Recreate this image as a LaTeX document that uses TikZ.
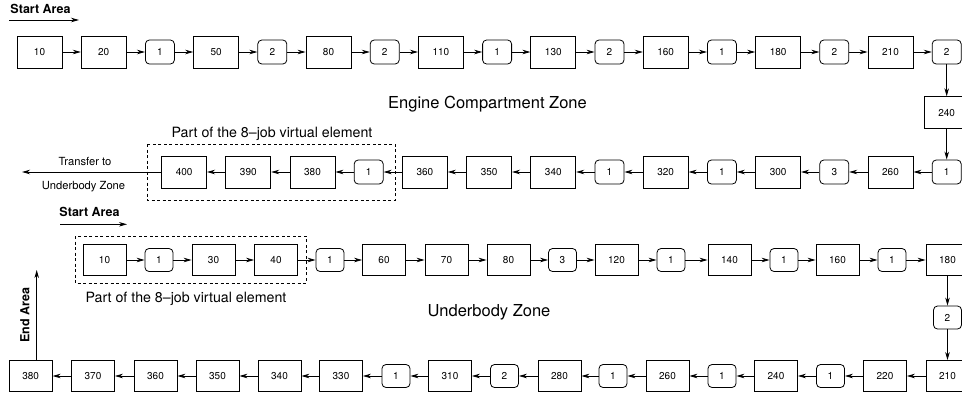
\documentclass[tikz,border=0pt]{standalone}
\usepackage{fontspec}
\setmainfont{TeX Gyre Heros}
\usetikzlibrary{arrows.meta}
\tikzset{
  big/.style={draw, line width=0.8pt, minimum width=45pt, minimum height=32pt, inner sep=0pt, font=\fontsize{10}{12}\selectfont},
  sml/.style={draw, line width=0.8pt, rounded corners=4pt, minimum width=29pt, minimum height=24pt, inner sep=0pt, font=\fontsize{10}{12}\selectfont},
  bigl/.style={big, minimum width=43pt, minimum height=31pt},
  smll/.style={sml, minimum width=28pt, minimum height=23pt},
  arr/.style={line width=0.8pt, -{Stealth[length=8pt,width=4.5pt,inset=2.5pt]}},
  dashbox/.style={line width=0.8pt, dash pattern=on 3pt off 2.5pt},
  lbl/.style={anchor=base, inner sep=0pt},
  hd/.style={lbl, font=\bfseries\fontsize{12.5}{14}\selectfont},
  zone/.style={lbl, font=\fontsize{16.5}{19}\selectfont},
  part/.style={lbl, font=\fontsize{14.2}{17}\selectfont},
  small/.style={lbl, font=\fontsize{11.2}{13}\selectfont},
}
\begin{document}
\begin{tikzpicture}[x=1pt,y=-1pt]
\useasboundingbox (0,0) rectangle (962,397);
\clip (0,0) rectangle (962,397);

% ---------- Row 1 ----------
\node[big] (a10)  at (39.5,52)  {10};
\node[big] (a20)  at (103.7,52) {20};
\node[sml] (a1a)  at (159.9,52) {1};
\node[big] (a50)  at (216.1,52) {50};
\node[sml] (a2a)  at (272.3,52) {2};
\node[big] (a80)  at (328.5,52) {80};
\node[sml] (a2b)  at (384.7,52) {2};
\node[big] (a110) at (440.9,52) {110};
\node[sml] (a1b)  at (497.1,52) {1};
\node[big] (a130) at (553.3,52) {130};
\node[sml] (a2c)  at (609.5,52) {2};
\node[big] (a160) at (665.7,52) {160};
\node[sml] (a1c)  at (721.9,52) {1};
\node[big] (a180) at (778.1,52) {180};
\node[sml] (a2d)  at (834.3,52) {2};
\node[big] (a210) at (890.5,52) {210};
\node[sml] (a2e)  at (946.7,52) {2};
\node[big] (a240) at (946.7,112.7) {240};

% ---------- Row 2 ----------
\node[sml] (b1a)  at (946.7,172) {1};
\node[big] (b260) at (890.5,172) {260};
\node[sml] (b3)   at (834.3,172) {3};
\node[big] (b300) at (778.1,172) {300};
\node[sml] (b1b)  at (721.9,172) {1};
\node[big] (b320) at (665.7,172) {320};
\node[sml] (b1c)  at (609.5,172) {1};
\node[big] (b340) at (553.3,172) {340};
\node[big] (b350) at (489.1,172) {350};
\node[big] (b360) at (424.9,172) {360};
\node[sml] (b1d)  at (368.7,172) {1};
\node[big] (b380) at (312.5,172) {380};
\node[big] (b390) at (248.3,172) {390};
\node[big] (b400) at (184.1,172) {400};

% ---------- Row 3 ----------
\node[bigl] (c10)  at (104.5,260) {10};
\node[smll] (c1a)  at (159,260)   {1};
\node[bigl] (c30)  at (213.5,260) {30};
\node[bigl] (c40)  at (276,260)   {40};
\node[smll] (c1b)  at (330,260)   {1};
\node[bigl] (c60)  at (384,260)   {60};
\node[bigl] (c70)  at (446.5,260) {70};
\node[bigl] (c80)  at (508.5,260) {80};
\node[smll] (c3)   at (562.5,260) {3};
\node[bigl] (c120) at (616.5,260) {120};
\node[smll] (c1c)  at (671,260)   {1};
\node[bigl] (c140) at (729.5,260) {140};
\node[smll] (c1d)  at (784,260)   {1};
\node[bigl] (c160) at (837.5,260) {160};
\node[smll] (c1e)  at (892,260)   {1};
\node[bigl] (c180) at (947.5,260) {180};
\node[smll] (c2)   at (947.5,317.5) {2};

% ---------- Row 4 ----------
\node[bigl] (d210) at (947.5,376) {210};
\node[bigl] (d220) at (885,376)   {220};
\node[smll] (d1a)  at (830.5,376) {1};
\node[bigl] (d240) at (776,376)   {240};
\node[smll] (d1b)  at (722,376)   {1};
\node[bigl] (d260) at (667.5,376) {260};
\node[smll] (d1c)  at (613,376)   {1};
\node[bigl] (d280) at (559.5,376) {280};
\node[smll] (d2)   at (504.5,376) {2};
\node[bigl] (d310) at (450,376)   {310};
\node[smll] (d1d)  at (396,376)   {1};
\node[bigl] (d330) at (341,376)   {330};
\node[bigl] (d340) at (279.5,376) {340};
\node[bigl] (d350) at (217.5,376) {350};
\node[bigl] (d360) at (155.5,376) {360};
\node[bigl] (d370) at (93,376)    {370};
\node[bigl] (d380) at (30.7,376)  {380};

% ---------- connectors ----------
\foreach \p/\q in {a10/a20,a20/a1a,a1a/a50,a50/a2a,a2a/a80,a80/a2b,a2b/a110,a110/a1b,
  a1b/a130,a130/a2c,a2c/a160,a160/a1c,a1c/a180,a180/a2d,a2d/a210,a210/a2e,a2e/a240,a240/b1a,
  b1a/b260,b260/b3,b3/b300,b300/b1b,b1b/b320,b320/b1c,b1c/b340,b340/b350,b350/b360,b360/b1d,
  b1d/b380,b380/b390,b390/b400,
  c10/c1a,c1a/c30,c30/c40,c40/c1b,c1b/c60,c60/c70,c70/c80,c80/c3,c3/c120,c120/c1c,c1c/c140,
  c140/c1d,c1d/c160,c160/c1e,c1e/c180,c180/c2,c2/d210,
  d210/d220,d220/d1a,d1a/d240,d240/d1b,d1b/d260,d260/d1c,d1c/d280,d280/d2,d2/d310,d310/d1d,
  d1d/d330,d330/d340,d340/d350,d350/d360,d360/d370,d370/d380}
  \draw[arr] (\p) -- (\q);

% transfer arrow
\coordinate (tr) at (22,172);
\draw[arr] (b400) -- (tr);
\node[small] (tr1) at (85,165) {Transfer to};
\node[small] (tr2) at (83.5,189) {Underbody Zone};

% start areas
\node[hd] (sa1) at (40.5,13.5) {Start Area};
\coordinate (sa1s) at (9.3,20);
\coordinate (sa1e) at (79,20);
\draw[arr] (sa1s) -- (sa1e);

\node[hd] (sa2) at (89.5,216.5) {Start Area};
\coordinate (sa2s) at (60,224.3);
\coordinate (sa2e) at (127,224.3);
\draw[arr] (sa2s) -- (sa2e);

% end area
\coordinate (endtip) at (36.7,270);
\draw[arr] (endtip |- d380.north) -- (endtip);
\node[hd, rotate=90] (ea) at (29.3,315.5) {End Area};

% zone titles
\node[zone] (ecz) at (487.5,108.3) {Engine Compartment Zone};
\node[zone] (ubz) at (489,316.5) {Underbody Zone};

% virtual element boxes
\draw[dashbox] (147,144) rectangle (395,200);
\node[part] (pv1) at (272,137.3) {Part of the 8--job virtual element};
\draw[dashbox] (75,236) rectangle (306,283);
\node[part] (pv2) at (186,302.3) {Part of the 8--job virtual element};

\end{tikzpicture}
\end{document}
